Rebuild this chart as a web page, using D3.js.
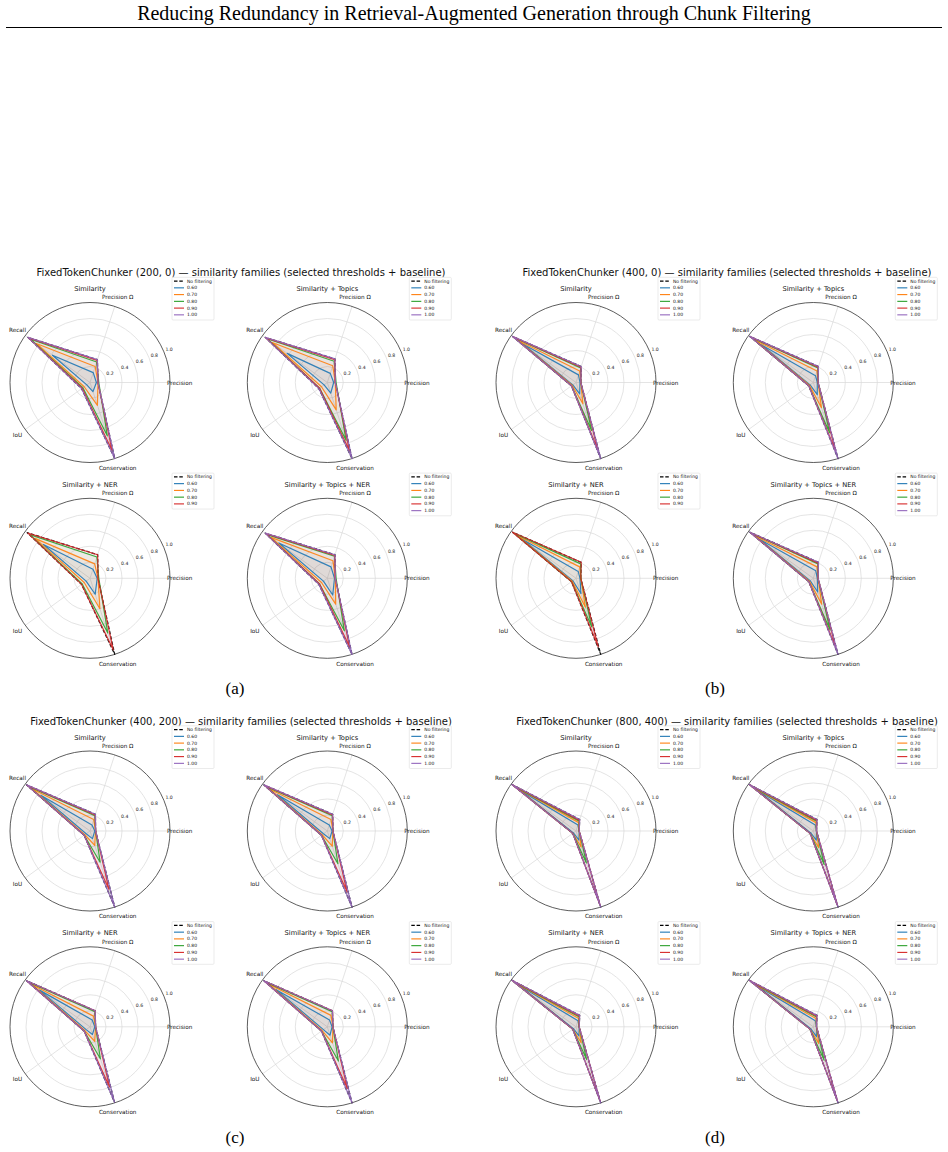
<!DOCTYPE html>
<html>
<head>
<meta charset="utf-8">
<script src="https://d3js.org/d3.v7.min.js"></script>
<style>
 body { margin: 0; background: #fff; }
</style>
</head>
<body>
<div id="grafico"></div>
<script>
// axes of every radar, counter-clockwise from "Precision" (east)
var axisNames = ["Precision", "Precision \u03a9", "Recall", "IoU", "Conservation"];
var thresholds = ["0.60", "0.70", "0.80", "0.90", "1.00"];
var families = ["Similarity", "Similarity + Topics", "Similarity + NER", "Similarity + Topics + NER"];
var chunkers = ["(200, 0)", "(400, 0)", "(400, 200)", "(800, 400)"];
var captions = ["(a)", "(b)", "(c)", "(d)"];
var rTicks = [0.2, 0.4, 0.6, 0.8, 1.0];

// rows: No filtering, then one row per threshold
// values: [Precision, Precision Ω, Recall, IoU, Conservation]
var a_sim = [[0.10,0.30,0.96,0.13,1.00],[0.08,0.13,0.58,0.05,0.12],[0.10,0.21,0.83,0.09,0.30],[0.11,0.27,0.92,0.11,0.70],[0.10,0.29,0.95,0.12,0.89],[0.10,0.30,0.96,0.13,1.00]];
var a_top = [[0.10,0.31,0.96,0.13,1.00],[0.08,0.12,0.62,0.05,0.14],[0.10,0.22,0.85,0.09,0.36],[0.11,0.28,0.93,0.12,0.76],[0.10,0.30,0.95,0.12,0.89],[0.10,0.31,0.96,0.13,1.00]];
var a_ner = [[0.10,0.31,0.97,0.13,1.00],[0.09,0.12,0.72,0.06,0.21],[0.10,0.19,0.85,0.09,0.40],[0.11,0.28,0.93,0.12,0.72],[0.10,0.31,0.96,0.13,0.94]];
var a_tnr = [[0.10,0.31,0.96,0.13,1.00],[0.09,0.15,0.75,0.06,0.22],[0.10,0.23,0.87,0.09,0.34],[0.11,0.29,0.93,0.12,0.69],[0.10,0.30,0.95,0.12,0.90],[0.10,0.31,0.96,0.13,1.00]];

var b_sim = [[0.06,0.21,0.98,0.07,1.00],[0.05,0.10,0.82,0.05,0.15],[0.06,0.15,0.90,0.06,0.28],[0.06,0.19,0.96,0.07,0.63],[0.06,0.20,0.97,0.07,0.89],[0.06,0.21,0.98,0.07,1.00]];
var b_top = [[0.06,0.21,0.98,0.07,1.00],[0.05,0.09,0.80,0.05,0.16],[0.06,0.15,0.90,0.06,0.33],[0.06,0.19,0.96,0.07,0.66],[0.06,0.20,0.97,0.07,0.90],[0.06,0.21,0.98,0.07,1.00]];
var b_ner = [[0.06,0.21,0.98,0.07,1.00],[0.05,0.09,0.83,0.05,0.20],[0.06,0.15,0.91,0.06,0.38],[0.06,0.19,0.96,0.07,0.64],[0.06,0.21,0.98,0.07,0.90]];
var b_tnr = [[0.06,0.21,0.98,0.07,1.00],[0.05,0.10,0.83,0.05,0.18],[0.06,0.15,0.91,0.06,0.34],[0.06,0.19,0.96,0.07,0.68],[0.06,0.20,0.97,0.07,0.91],[0.06,0.21,0.98,0.07,1.00]];

var c_sim = [[0.07,0.22,0.98,0.09,1.00],[0.06,0.08,0.76,0.06,0.10],[0.07,0.15,0.90,0.08,0.19],[0.07,0.20,0.95,0.09,0.41],[0.07,0.21,0.97,0.09,0.77],[0.07,0.22,0.98,0.09,1.00]];
var c_top = [[0.07,0.22,0.98,0.09,1.00],[0.06,0.08,0.77,0.06,0.10],[0.07,0.15,0.90,0.08,0.20],[0.07,0.20,0.95,0.09,0.43],[0.07,0.21,0.97,0.09,0.80],[0.07,0.22,0.98,0.09,1.00]];
var c_ner = [[0.07,0.21,0.98,0.09,0.99],[0.06,0.09,0.78,0.06,0.10],[0.07,0.14,0.90,0.08,0.19],[0.07,0.20,0.95,0.09,0.42],[0.07,0.21,0.97,0.09,0.79],[0.07,0.21,0.98,0.09,0.99]];
var c_tnr = [[0.07,0.21,0.98,0.09,1.00],[0.06,0.09,0.79,0.06,0.11],[0.07,0.15,0.91,0.08,0.21],[0.07,0.20,0.95,0.09,0.45],[0.07,0.21,0.97,0.09,0.81],[0.07,0.21,0.98,0.09,1.00]];

var d_sim = [[0.04,0.15,0.99,0.05,1.00],[0.04,0.08,0.88,0.04,0.12],[0.04,0.11,0.93,0.05,0.21],[0.04,0.13,0.96,0.05,0.42],[0.04,0.14,0.98,0.05,0.97],[0.04,0.15,0.99,0.05,1.00]];
var d_top = [[0.04,0.15,0.99,0.05,1.00],[0.04,0.08,0.88,0.04,0.12],[0.04,0.11,0.93,0.05,0.22],[0.04,0.13,0.96,0.05,0.44],[0.04,0.14,0.98,0.05,0.97],[0.04,0.15,0.99,0.05,1.00]];
var d_ner = [[0.04,0.15,0.99,0.05,1.00],[0.04,0.08,0.89,0.04,0.12],[0.04,0.11,0.93,0.05,0.21],[0.04,0.13,0.96,0.05,0.43],[0.04,0.14,0.98,0.05,0.97],[0.04,0.15,0.99,0.05,1.00]];
var d_tnr = [[0.04,0.15,0.99,0.05,1.00],[0.04,0.08,0.89,0.04,0.13],[0.04,0.11,0.93,0.05,0.22],[0.04,0.13,0.96,0.05,0.44],[0.04,0.14,0.98,0.05,0.97],[0.04,0.15,0.99,0.05,1.00]];

var panels = [[a_sim, a_top, a_ner, a_tnr], [b_sim, b_top, b_ner, b_tnr],
              [c_sim, c_top, c_ner, c_tnr], [d_sim, d_top, d_ner, d_tnr]];

var colors = ["#000000", "#1f77b4", "#ff7f0e", "#2ca02c", "#d62728", "#9467bd"];

var W = 948, H = 1152;
var R = 80;
var panelPos = [[0, 0], [486, 0], [0, 448.5], [486, 448.5]];
var subPos = [[90, 382.5], [327.3, 382.5], [90, 578.3], [327.3, 578.3]];
var sans = "'DejaVu Sans', sans-serif";
var serif = "'Liberation Serif', 'Times New Roman', serif";

var svg = d3.select("#grafico")
  .append("svg")
  .attr("width", W)
  .attr("height", H)
  .style("display", "block");

// page header
svg.append("text")
  .attr("x", W / 2).attr("y", 19.8)
  .attr("text-anchor", "middle")
  .style("font-family", serif).attr("font-size", 20)
  .text("Reducing Redundancy in Retrieval-Augmented Generation through Chunk Filtering");
svg.append("line")
  .attr("x1", 6).attr("x2", 942).attr("y1", 27.5).attr("y2", 27.5)
  .attr("stroke", "#000").attr("stroke-width", 1);

var rScale = d3.scaleLinear().domain([0, 1]).range([0, R]);
// d3 radial angle: clockwise from 12 o'clock. matplotlib theta: ccw from east
function angleOf(i) { return Math.PI / 2 - i * 2 * Math.PI / axisNames.length; }
var radarLine = d3.lineRadial()
  .angle(function(d, i) { return angleOf(i); })
  .radius(function(d) { return rScale(d); })
  .curve(d3.curveLinearClosed);

function radar(g, title, rows) {
  // grid
  g.selectAll("circle.grid")
    .data(rTicks.slice(0, -1))
    .enter().append("circle")
    .attr("r", function(d) { return rScale(d); })
    .attr("fill", "none").attr("stroke", "#d9d9d9").attr("stroke-width", 0.7);
  g.selectAll("line.spoke")
    .data(axisNames)
    .enter().append("line")
    .attr("x2", function(d, i) { return rScale(1) * Math.sin(angleOf(i)); })
    .attr("y2", function(d, i) { return -rScale(1) * Math.cos(angleOf(i)); })
    .attr("stroke", "#d9d9d9").attr("stroke-width", 0.7);
  g.append("circle")
    .attr("r", rScale(1))
    .attr("fill", "none").attr("stroke", "#333").attr("stroke-width", 0.8);

  // radial tick labels at 22.5 deg
  var la = Math.PI / 2 - Math.PI / 8;
  g.selectAll("text.rtick")
    .data(rTicks)
    .enter().append("text")
    .attr("x", function(d) { return rScale(d) * Math.sin(la) + 1.5; })
    .attr("y", function(d) { return -rScale(d) * Math.cos(la) - 1.2; })
    .style("font-family", sans).attr("font-size", 4.6).attr("fill", "#222")
    .text(function(d) { return d.toFixed(1); });

  // fills then outlines, baseline first
  g.selectAll("path.fill")
    .data(rows)
    .enter().append("path")
    .attr("d", radarLine)
    .attr("fill", function(d, i) { return colors[i]; })
    .attr("fill-opacity", function(d, i) { return i == 0 ? 0.03 : 0.045; })
    .attr("stroke", "none");
  g.selectAll("path.line")
    .data(rows)
    .enter().append("path")
    .attr("d", radarLine)
    .attr("fill", "none")
    .attr("stroke", function(d, i) { return colors[i]; })
    .attr("stroke-width", function(d, i) { return i == 0 ? 1.25 : 1.2; })
    .attr("stroke-dasharray", function(d, i) { return i == 0 ? "3.5,1.8" : null; })
    .attr("stroke-linejoin", "round")
    .attr("stroke-opacity", 0.9);

  // axis labels
  g.selectAll("text.axl")
    .data(axisNames)
    .enter().append("text")
    .attr("x", function(d, i) { return 1.12 * R * Math.sin(angleOf(i)); })
    .attr("y", function(d, i) { return -1.12 * R * Math.cos(angleOf(i)); })
    .attr("text-anchor", "middle").attr("dy", "0.35em")
    .style("font-family", sans).attr("font-size", 5.7).attr("fill", "#111")
    .text(function(d) { return d; });

  // subplot title
  g.append("text")
    .attr("x", 0).attr("y", -91.5)
    .attr("text-anchor", "middle")
    .style("font-family", sans).attr("font-size", 6.7).attr("fill", "#111")
    .text(title);

  // legend
  var names = ["No filtering"].concat(thresholds.slice(0, rows.length - 1));
  var leg = g.append("g").attr("transform", "translate(" + (R + 2) + "," + (-105.2) + ")");
  leg.append("rect")
    .attr("width", 42).attr("height", names.length * 6.75 + 2.2)
    .attr("rx", 1).attr("fill", "#fff").attr("fill-opacity", 0.8)
    .attr("stroke", "#d6d6d6").attr("stroke-width", 0.5);
  var item = leg.selectAll("g.item")
    .data(names)
    .enter().append("g")
    .attr("transform", function(d, i) { return "translate(0," + (3.8 + i * 6.75) + ")"; });
  item.append("line")
    .attr("x1", 2).attr("x2", 12)
    .attr("stroke", function(d, i) { return colors[i]; })
    .attr("stroke-width", 1.1)
    .attr("stroke-dasharray", function(d, i) { return i == 0 ? "3.5,1.8" : null; });
  item.append("text")
    .attr("x", 15).attr("dy", "0.35em")
    .style("font-family", sans).attr("font-size", 4.5).attr("fill", "#111")
    .text(function(d) { return d; });
}

panels.forEach(function(fams, p) {
  var pg = svg.append("g")
    .attr("transform", "translate(" + panelPos[p][0] + "," + panelPos[p][1] + ")");

  pg.append("text")
    .attr("x", 241).attr("y", 276.3)
    .attr("text-anchor", "middle")
    .style("font-family", sans).attr("font-size", 10).attr("fill", "#111")
    .text("FixedTokenChunker " + chunkers[p] + " \u2014 similarity families (selected thresholds + baseline)");

  fams.forEach(function(rows, f) {
    var g = pg.append("g")
      .attr("transform", "translate(" + subPos[f][0] + "," + subPos[f][1] + ")");
    radar(g, families[f], rows);
  });

  pg.append("text")
    .attr("x", p % 2 == 0 ? 235 : 229).attr("y", 694)
    .attr("text-anchor", "middle")
    .style("font-family", serif).attr("font-size", 17)
    .text(captions[p]);
});
</script>
</body>
</html>
